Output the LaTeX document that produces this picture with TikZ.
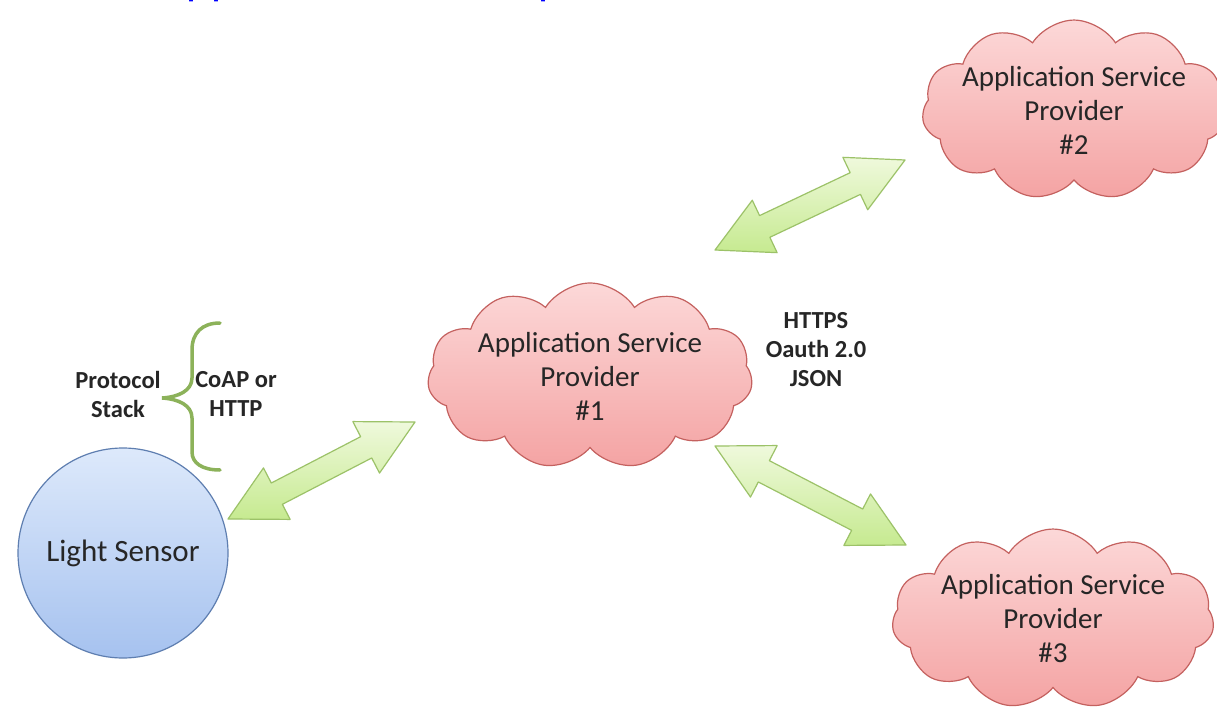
\documentclass[tikz,border=0pt]{standalone}
\usepackage{fontspec}
\setmainfont{Carlito}
\newfontfamily\titlefont{Liberation Sans}
\usetikzlibrary{shapes.symbols,calc}
\definecolor{cloudfillA}{HTML}{FCD8D8}
\definecolor{cloudfillB}{HTML}{F4A3A3}
\definecolor{cloudline}{HTML}{C4615F}
\definecolor{sensA}{HTML}{DDE9FB}
\definecolor{sensB}{HTML}{A6C2EF}
\definecolor{sensline}{HTML}{5E7EB0}
\definecolor{arrA}{HTML}{EFF9DC}
\definecolor{arrB}{HTML}{C6EA90}
\definecolor{arrline}{HTML}{9CC268}
\definecolor{bracecol}{HTML}{8CB25A}
\definecolor{txt}{HTML}{262626}
\definecolor{linkblue}{HTML}{0000FF}
\tikzset{
  provider/.style={cloud, cloud puffs=11, cloud puff arc=115, aspect=2.1,
    draw=cloudline, line width=1.2pt, top color=cloudfillA, bottom color=cloudfillB,
    text=txt, font=\fontsize{29}{34}\selectfont, align=center, inner xsep=-8pt, inner ysep=-24pt},
  sensor/.style={circle, draw=sensline, line width=1.2pt, top color=sensA,
    bottom color=sensB, text=txt, font=\fontsize{31}{36}\selectfont, minimum size=210pt, inner sep=0pt},
  boldlabel/.style={text=txt, font=\fontsize{24.5}{29}\selectfont\bfseries, align=center, inner sep=0pt},
  fatarrowstyle/.style={draw=arrline, line width=1.2pt, line join=round, top color=arrA, bottom color=arrB},
  bracestyle/.style={draw=bracecol, line width=3.5pt, line cap=round},
  titletext/.style={text=linkblue, font=\titlefont\fontsize{45}{54}\selectfont, anchor=base west, inner sep=0pt}
}
\newcommand\fatarrow[2]{%
  \draw[fatarrowstyle] let \p1=($(#2)-(#1)$), \n1={atan2(\y1,\x1)} in
    (#1) -- ($(#1)+(\n1:55pt)+(\n1+90:29pt)$) -- ($(#1)+(\n1:55pt)+(\n1+90:12pt)$)
    -- ($(#2)+(\n1:-55pt)+(\n1+90:12pt)$) -- ($(#2)+(\n1:-55pt)+(\n1+90:29pt)$)
    -- (#2) -- ($(#2)+(\n1:-55pt)+(\n1-90:29pt)$) -- ($(#2)+(\n1:-55pt)+(\n1-90:12pt)$)
    -- ($(#1)+(\n1:55pt)+(\n1-90:12pt)$) -- ($(#1)+(\n1:55pt)+(\n1-90:29pt)$) -- cycle;}
\begin{document}
\begin{tikzpicture}[x=1pt,y=-1pt]
\useasboundingbox (0,0) rectangle (1217,708);
\fill[white] (0,0) rectangle (1217,708);
\clip (0,0) rectangle (1217,708);
% cut-off title
\node[titletext] (title1) at (156,-7) {Application};
\node[titletext] (title2) at (538,-7) {p};
% nodes
\node[sensor] (sensor) at (123,553) {Light Sensor};
\node[provider, minimum width=325pt, minimum height=186pt] (asp1) at (590,376) {Application Service\\Provider\\\#1};
\node[provider, minimum width=300pt, minimum height=158pt] (asp2) at (1074,110) {Application Service\\Provider\\\#2};
\node[provider, minimum width=322pt, minimum height=176pt] (asp3) at (1053,619) {Application Service\\Provider\\\#3};
\node[boldlabel] (stack) at (118,394) {Protocol\\Stack};
\node[boldlabel] (coap) at (236,394) {CoAP or\\HTTP};
\node[boldlabel] (https) at (816,350) {HTTPS\\Oauth 2.0\\JSON};
% brace
\draw[bracestyle] (220,323) .. controls (202,323) and (192,333) .. (192,350) -- (192,378)
  .. controls (192,391) and (178,397) .. (162,398)
  .. controls (178,399) and (192,405) .. (192,418) -- (192,452)
  .. controls (192,463) and (202,470) .. (220,470);
% arrow end points
\coordinate (a1s) at (228,519);
\coordinate (a1e) at (415,422);
\coordinate (a2s) at (715,250);
\coordinate (a2e) at (905,160);
\coordinate (a3s) at (715,446);
\coordinate (a3e) at (906,545);
\fatarrow{a1s}{a1e}
\fatarrow{a2s}{a2e}
\fatarrow{a3s}{a3e}
\end{tikzpicture}
\end{document}
